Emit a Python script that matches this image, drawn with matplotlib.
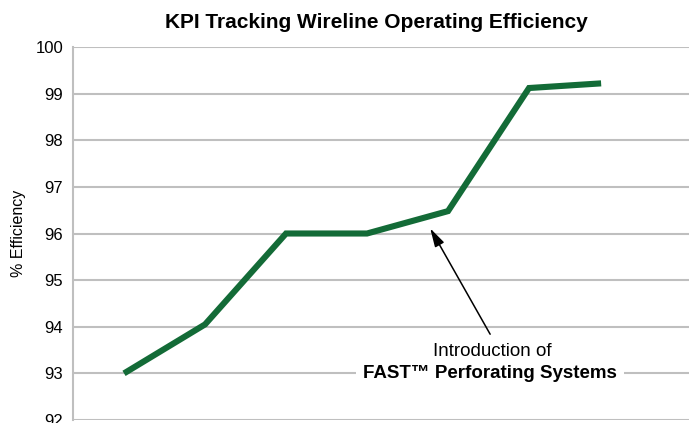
import matplotlib.pyplot as plt

# data
periods = [0, 1, 2, 3, 4, 5, 5.89]
efficiency = [93.0, 94.05, 96.0, 96.0, 96.48, 99.12, 99.22]
y_ticks = [92, 93, 94, 95, 96, 97, 98, 99, 100]

plt.rcParams['font.family'] = ['Liberation Sans', 'DejaVu Sans']

fig = plt.figure(figsize=(6.89, 4.23), dpi=100)
ax = fig.add_axes([73 / 689, 3 / 423, 616 / 689, 373 / 423])

ax.plot(periods, efficiency, color='#136b37', linewidth=4.4,
        solid_joinstyle='miter', solid_capstyle='butt', zorder=3)

ax.set_xlim(-0.63, 6.975)
ax.set_ylim(92, 100)
ax.set_yticks(y_ticks)
ax.set_xticks([])
ax.tick_params(axis='y', length=0, pad=7, labelsize=12)
ax.grid(axis='y', color='#bfbfbf', linewidth=1.5)
ax.set_axisbelow(True)
for s in ['top', 'right', 'bottom']:
    ax.spines[s].set_visible(False)
ax.spines['left'].set_color('#bfbfbf')
ax.spines['left'].set_linewidth(1.5)

ax.set_ylabel('% Efficiency', fontsize=11.5)
ax.yaxis.set_label_coords(-47 / 616, 0.5)
fig.text(376 / 689, 1 - 22 / 423, 'KPI Tracking Wireline Operating Efficiency',
         ha='center', va='center', fontsize=15, fontweight='bold')

# annotation
ax.annotate('', xy=(3.78, 96.11), xytext=(4.52, 93.84),
            arrowprops=dict(arrowstyle='-|>,head_length=0.8,head_width=0.22',
                            color='black', lw=1.1, mutation_scale=14,
                            shrinkA=0, shrinkB=0))
ax.text(4.55, 93.47, 'Introduction of', ha='center', va='center', fontsize=13.5)
ax.text(4.52, 93.0, 'FAST\u2122 Perforating Systems', ha='center', va='center',
        fontsize=13.5, fontweight='bold',
        bbox=dict(facecolor='white', edgecolor='none', pad=5))

fig.savefig('out.png', dpi=100)
